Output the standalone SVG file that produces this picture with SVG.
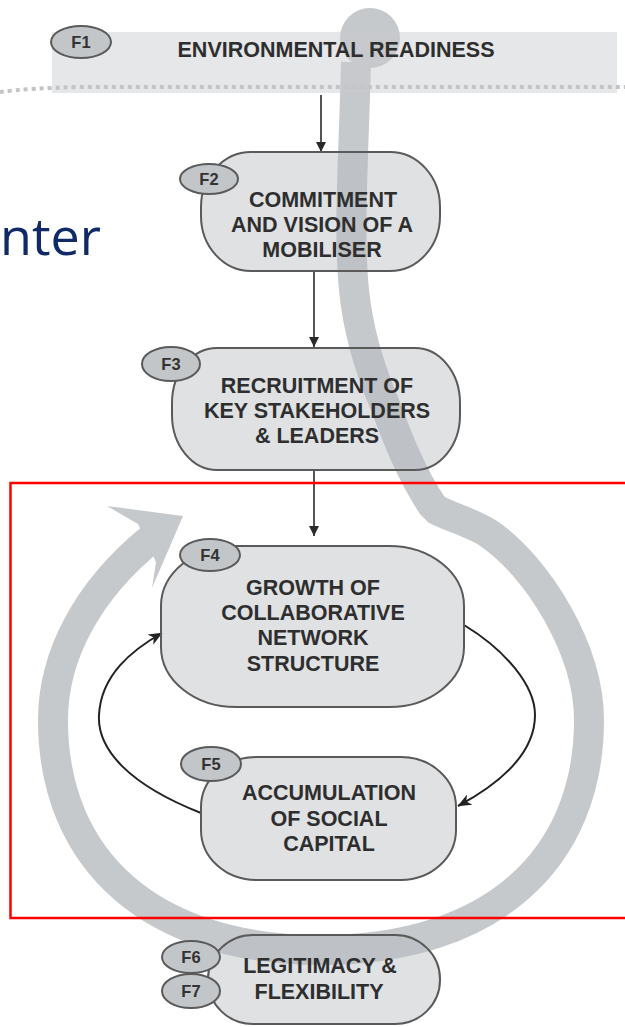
<svg xmlns="http://www.w3.org/2000/svg" width="625" height="1027" viewBox="0 0 625 1027">
<defs>
<style>
.node{fill:#b3b7bd;fill-opacity:0.42;stroke:#5a5a5a;stroke-width:2}
.tag{fill:#c3c6c9;stroke:#5a5a5a;stroke-width:2}
.lbl{font-family:"Liberation Sans",Arial,sans-serif;font-weight:bold;font-size:21.5px;fill:#2e2e2e;text-anchor:middle}
.tagt{font-family:"Liberation Sans",Arial,sans-serif;font-weight:bold;font-size:16.5px;fill:#333;text-anchor:middle}
.sw{fill:none;stroke:#c6c9cc;stroke-width:30;stroke-linejoin:miter}
.conn{fill:none;stroke:#2a2a2a;stroke-width:1.6}
.loop{fill:none;stroke:#222;stroke-width:2}
</style>
<marker id="tri" viewBox="0 0 10 10" refX="10" refY="5" markerWidth="11" markerHeight="10" markerUnits="userSpaceOnUse" orient="auto">
<path d="M0,0 L10,5 L0,10 z" fill="#2a2a2a"/>
</marker>
<marker id="barb" viewBox="0 0 12 10" refX="11.5" refY="5" markerWidth="14" markerHeight="12" markerUnits="userSpaceOnUse" orient="auto">
<path d="M0,0 L12,5 L0,10 L3.5,5 z" fill="#222"/>
</marker>
</defs>
<rect width="625" height="1027" fill="#ffffff"/>

<text x="0" y="255" font-family="'Open Sans','Noto Sans',sans-serif" font-size="52" fill="#0f2a66">nter</text>

<g id="swoosh">
<circle cx="370" cy="38" r="30" fill="#c6c9cc"/>
<path class="sw" d="M356,62 C354,150 348,230 354,290 C358,330 370,370 385,405 C398,440 412,475 432,505 L437,510 C455,519 470,522 488,533 C538,567 589,650 589,720 C589,860 491,950 321,950 C151,950 53,860 53,720 C53,655 88,590 152,538"/>
<polygon points="183,516 107,506 138,524 156,562 152,588" fill="#c6c9cc"/>
</g>

<g id="connectors">
<line class="conn" x1="321" y1="95" x2="321" y2="152" marker-end="url(#tri)"/>
<line class="conn" x1="314" y1="272" x2="314" y2="347" marker-end="url(#tri)"/>
<line class="conn" x1="314" y1="471" x2="314" y2="536" marker-end="url(#tri)"/>
<path class="loop" d="M464,625 C505,650 535,685 535,715 C535,755 497,785 458,806" marker-end="url(#barb)"/>
<path class="loop" d="M201,813 C130,785 97,750 99,715 C101,675 132,650 162,633" marker-end="url(#barb)"/>
</g>

<g id="F1">
<rect x="52" y="32" width="565" height="61" fill="#c8cacc" fill-opacity="0.45"/>
<path d="M0,92 Q30,88 80,87 L625,87" fill="none" stroke="#c2c4c6" stroke-width="4" stroke-dasharray="4 4"/>
<ellipse class="tag" cx="81" cy="42" rx="30" ry="16"/>
<text class="tagt" x="81" y="48">F1</text>
<text class="lbl" x="336" y="57">ENVIRONMENTAL READINESS</text>
</g>

<g id="F2">
<rect class="node" x="201" y="152" width="239" height="119" rx="50" ry="55"/>
<ellipse class="tag" cx="209" cy="179" rx="29" ry="15"/>
<text class="tagt" x="209" y="185">F2</text>
<text class="lbl" x="323" y="207">COMMITMENT</text>
<text class="lbl" x="322" y="232">AND VISION OF A</text>
<text class="lbl" x="322" y="257">MOBILISER</text>
</g>

<g id="F3">
<rect class="node" x="172" y="348" width="288" height="122" rx="45" ry="55"/>
<ellipse class="tag" cx="171" cy="364" rx="29" ry="17"/>
<text class="tagt" x="171" y="370">F3</text>
<text class="lbl" x="317" y="393">RECRUITMENT OF</text>
<text class="lbl" x="317" y="418">KEY STAKEHOLDERS</text>
<text class="lbl" x="317" y="443">&amp; LEADERS</text>
</g>

<g id="F4">
<rect class="node" x="161" y="546" width="303" height="161" rx="75" ry="60"/>
<ellipse class="tag" cx="210" cy="555" rx="30" ry="16"/>
<text class="tagt" x="210" y="561">F4</text>
<text class="lbl" x="313" y="595">GROWTH OF</text>
<text class="lbl" x="313" y="620">COLLABORATIVE</text>
<text class="lbl" x="313" y="645">NETWORK</text>
<text class="lbl" x="313" y="671">STRUCTURE</text>
</g>

<g id="F5">
<rect class="node" x="201" y="757" width="255" height="123" rx="55" ry="50"/>
<ellipse class="tag" cx="211" cy="764" rx="30" ry="17"/>
<text class="tagt" x="211" y="770">F5</text>
<text class="lbl" x="329" y="800">ACCUMULATION</text>
<text class="lbl" x="329" y="826">OF SOCIAL</text>
<text class="lbl" x="329" y="851">CAPITAL</text>
</g>

<g id="F6F7">
<rect class="node" x="208" y="935" width="232" height="89" rx="45" ry="44"/>
<ellipse class="tag" cx="191" cy="957" rx="29" ry="16"/>
<text class="tagt" x="191" y="963">F6</text>
<ellipse class="tag" cx="191" cy="991" rx="29" ry="17"/>
<text class="tagt" x="191" y="997">F7</text>
<text class="lbl" x="320" y="973">LEGITIMACY &amp;</text>
<text class="lbl" x="319" y="999">FLEXIBILITY</text>
</g>

<g id="highlight">
<rect x="10.5" y="483" width="630" height="435" fill="none" stroke="#ff0000" stroke-width="2.5"/>
</g>
</svg>
